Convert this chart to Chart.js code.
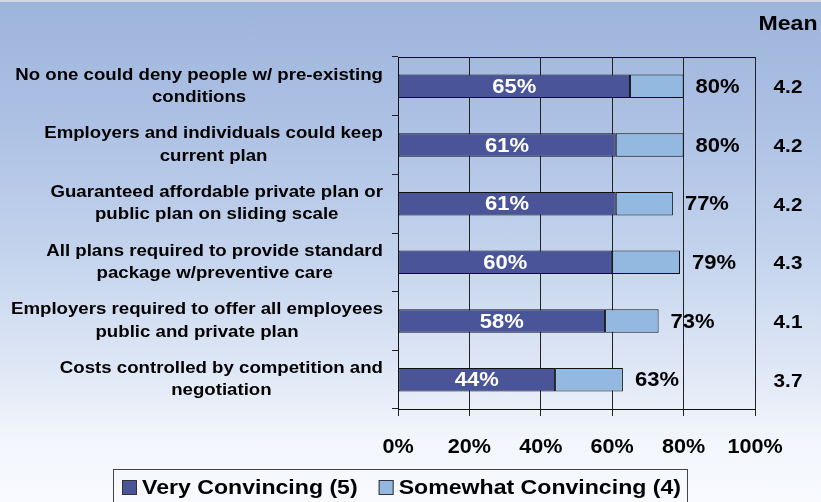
<!DOCTYPE html>
<html>
<head>
<meta charset="utf-8">
<script src="https://cdn.jsdelivr.net/npm/chart.js@4.4.0/dist/chart.umd.min.js"></script>
<style>
  html, body { margin: 0; padding: 0; }
  body {
    width: 821px; height: 502px; overflow: hidden;
    background: linear-gradient(to bottom, #9db4db 0%, #adc1e4 25%, #c3d3ed 50%, #dde6f5 72%, #f3f6fc 88%, #f8fafe 100%);
  }
  canvas { display: block; }
</style>
</head>
<body>
<canvas id="chart" width="821" height="502"></canvas>
<script>
// Survey items, each label split into its two printed lines
const categories = [
  ['No one could deny people w/ pre-existing', 'conditions'],
  ['Employers and individuals could keep', 'current plan'],
  ['Guaranteed affordable private plan or', 'public plan on sliding scale'],
  ['All plans required to provide standard', 'package w/preventive care'],
  ['Employers required to offer all employees', 'public and private plan'],
  ['Costs controlled by competition and', 'negotiation']
];
const seriesNames = ['Very Convincing (5)', 'Somewhat Convincing (4)'];
const veryConvincing = [65, 61, 61, 60, 58, 44];
const somewhatConvincing = [15, 19, 16, 19, 15, 19];
const meanScores = ['4.2', '4.2', '4.2', '4.3', '4.1', '3.7'];
const meanHeading = 'Mean';
const xTickValues = [0, 20, 40, 60, 80, 100];

const FONT = '"Liberation Sans", Arial, Helvetica, sans-serif';
const DARK = '#4a5498';
const LIGHT = '#93b9e0';

// Bold type here is set slightly wide; draw text with a horizontal stretch
function wideText(ctx, text, x, y, align, sx) {
  const w = ctx.measureText(text).width * sx;
  const left = align === 'center' ? x - w / 2 : align === 'right' ? x - w : x;
  ctx.save();
  ctx.translate(left, y);
  ctx.scale(sx, 1);
  ctx.textAlign = 'left';
  ctx.fillText(text, 0, 0);
  ctx.restore();
  return w;
}

const decor = {
  id: 'decor',
  afterDatasetsDraw(chart) {
    const ctx = chart.ctx;
    const first = chart.getDatasetMeta(0);
    const last = chart.getDatasetMeta(chart.data.datasets.length - 1);
    ctx.save();
    ctx.font = 'bold 20px ' + FONT;
    ctx.textBaseline = 'middle';
    first.data.forEach((bar, i) => {
      const v = chart.data.datasets[0].data[i];
      ctx.fillStyle = '#ffffff';
      wideText(ctx, v + '%', (bar.x + bar.base) / 2, bar.y + 1, 'center', 1.1);
      const total = chart.data.datasets.reduce((s, d) => s + d.data[i], 0);
      const end = last.data[i];
      ctx.fillStyle = '#000000';
      wideText(ctx, total + '%', end.x + 12, end.y + 1, 'left', 1.1);
    });
    ctx.restore();
  },
  afterDraw(chart) {
    const ctx = chart.ctx;
    const a = chart.chartArea;
    const xScale = chart.scales.x;
    const yScale = chart.scales.y;
    const mScale = chart.scales.mean;
    ctx.save();

    // top edge of the plot frame
    ctx.strokeStyle = '#111';
    ctx.lineWidth = 1;
    ctx.beginPath();
    ctx.moveTo(a.left, Math.round(a.top) + 0.5);
    ctx.lineTo(a.right, Math.round(a.top) + 0.5);
    ctx.stroke();

    // faint rule along the very top
    ctx.strokeStyle = '#d3d8e2';
    ctx.lineWidth = 2;
    ctx.beginPath();
    ctx.moveTo(0, 1);
    ctx.lineTo(chart.width, 1);
    ctx.stroke();

    ctx.fillStyle = '#000';
    ctx.textBaseline = 'middle';

    // two-line category labels: each block right-aligned, its lines centred
    ctx.font = 'bold 16.5px ' + FONT;
    const sxCat = 1.13;
    chart.data.labels.forEach((lines, i) => {
      const y = yScale.getPixelForValue(i);
      const w = Math.max(...lines.map(t => ctx.measureText(t).width)) * sxCat;
      const cx = a.left - 15 - w / 2;
      const step = 22.5;
      const y0 = y - (lines.length - 1) * step / 2;
      lines.forEach((t, k) => wideText(ctx, t, cx, y0 + k * step, 'center', sxCat));
    });

    // percentage ticks under the x axis
    ctx.font = 'bold 20px ' + FONT;
    xScale.ticks.forEach(t => {
      wideText(ctx, t.value + '%', xScale.getPixelForValue(t.value), a.bottom + 38, 'center', 1.08);
    });

    // mean score column and its heading
    const mx = (mScale.left + mScale.right) / 2;
    ctx.font = 'bold 18px ' + FONT;
    meanScores.forEach((m, i) => {
      wideText(ctx, m, mx, mScale.getPixelForValue(i) + 2, 'center', 1.15);
    });
    ctx.font = 'bold 21px ' + FONT;
    wideText(ctx, meanHeading, mx, 24, 'center', 1.1);

    // legend in a framed box
    const ds = chart.data.datasets;
    ctx.font = 'bold 21px ' + FONT;
    const sxLeg = 1.1;
    const box = 15, gapIn = 5, gapOut = 21, padL = 9, padR = 6;
    const widths = ds.map(d => ctx.measureText(d.label).width * sxLeg);
    let total = padL + padR;
    widths.forEach((w, i) => { total += box + gapIn + w + (i ? gapOut : 0); });
    const centre = (chart.width - 20) / 2;
    const left = Math.round(centre - total / 2);
    const top = 469;
    const midY = 488;
    ctx.strokeStyle = '#444';
    ctx.lineWidth = 1;
    ctx.strokeRect(left + 0.5, top + 0.5, total, 40);
    let x = left + padL;
    ds.forEach((d, i) => {
      if (i) x += gapOut;
      ctx.fillStyle = d.backgroundColor;
      ctx.fillRect(x, midY - 8, box, box);
      ctx.strokeStyle = '#333';
      ctx.strokeRect(x + 0.5, midY - 8 + 0.5, box - 1, box - 1);
      x += box + gapIn;
      ctx.fillStyle = '#000';
      wideText(ctx, d.label, x, midY, 'left', sxLeg);
      x += widths[i];
    });
    ctx.restore();
  }
};

new Chart(document.getElementById('chart'), {
  type: 'bar',
  data: {
    labels: categories,
    datasets: [
      { label: seriesNames[0], data: veryConvincing, backgroundColor: DARK },
      { label: seriesNames[1], data: somewhatConvincing, backgroundColor: LIGHT }
    ]
  },
  options: {
    indexAxis: 'y',
    responsive: false,
    animation: false,
    layout: { padding: { top: 57, right: 0, bottom: 53, left: 0 } },
    datasets: {
      bar: {
        borderColor: '#111',
        borderWidth: 1,
        borderSkipped: false,
        barPercentage: 0.4,
        categoryPercentage: 1
      }
    },
    scales: {
      x: {
        type: 'linear',
        stacked: true,
        min: 0,
        max: 100,
        afterBuildTicks(scale) { scale.ticks = xTickValues.map(v => ({ value: v })); },
        afterFit(scale) { scale.height = 40; },
        ticks: { display: false },
        grid: { color: '#222', lineWidth: 1, tickLength: 7, tickColor: '#222' },
        border: { color: '#111', width: 1 }
      },
      y: {
        type: 'category',
        stacked: true,
        afterFit(scale) { scale.width = 398; },
        ticks: { display: false },
        grid: { offset: true, drawOnChartArea: false, tickLength: 6, color: '#222' },
        border: { color: '#111', width: 1 }
      },
      mean: {
        type: 'category',
        position: 'right',
        labels: meanScores,
        offset: true,
        afterFit(scale) { scale.width = 66; },
        ticks: { display: false },
        grid: { display: false, drawTicks: false },
        border: { display: false }
      }
    },
    plugins: {
      legend: { display: false },
      tooltip: { enabled: false }
    }
  },
  plugins: [decor]
});
</script>
</body>
</html>
